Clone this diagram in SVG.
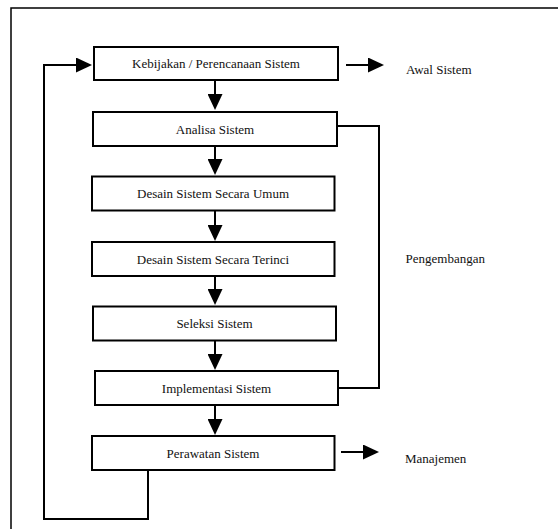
<svg xmlns="http://www.w3.org/2000/svg" width="558" height="529" viewBox="0 0 558 529">
<style>
.box{fill:#fff;stroke:#000;stroke-width:2}
text{font-family:'Liberation Serif','DejaVu Serif','Times New Roman',serif;font-size:13px;fill:#111}
.c{text-anchor:middle}
.ln{fill:none;stroke:#000;stroke-width:2}
.frame{fill:none;stroke:#000;stroke-width:1.5}
</style>
<defs>
<marker id="ah" markerUnits="userSpaceOnUse" markerWidth="16" markerHeight="15" refX="12" refY="7.5" orient="auto">
<path d="M0,0 L16,7.5 L0,15 z" fill="#000"/>
</marker>
</defs>
<rect class="frame" x="11" y="8" width="600" height="600"/>
<g id="connectors">
<line class="ln" x1="215" y1="80" x2="215" y2="106" marker-end="url(#ah)"/>
<line class="ln" x1="215" y1="146" x2="215" y2="171" marker-end="url(#ah)"/>
<line class="ln" x1="215" y1="211" x2="215" y2="237" marker-end="url(#ah)"/>
<line class="ln" x1="215" y1="276" x2="215" y2="301" marker-end="url(#ah)"/>
<line class="ln" x1="215" y1="341" x2="215" y2="366" marker-end="url(#ah)"/>
<line class="ln" x1="215" y1="405" x2="215" y2="431" marker-end="url(#ah)"/>
<line class="ln" x1="346" y1="65" x2="380" y2="65" marker-end="url(#ah)"/>
<line class="ln" x1="341" y1="452" x2="375" y2="452" marker-end="url(#ah)"/>
<path class="ln" d="M148,470 V519 H44 V65 H88" marker-end="url(#ah)"/>
<path class="ln" d="M337,126 H379 V388 H338"/>
</g>
<g id="n1"><rect class="box" x="94" y="47" width="244" height="33"/><text class="c" x="216" y="68">Kebijakan / Perencanaan Sistem</text></g>
<g id="n2"><rect class="box" x="93" y="112" width="244" height="34"/><text class="c" x="215" y="133.5">Analisa Sistem</text></g>
<g id="n3"><rect class="box" x="92" y="176.5" width="242.5" height="34"/><text class="c" x="213" y="198">Desain Sistem Secara Umum</text></g>
<g id="n4"><rect class="box" x="92" y="242" width="242.5" height="34"/><text class="c" x="213" y="263.5">Desain Sistem Secara Terinci</text></g>
<g id="n5"><rect class="box" x="93" y="306.5" width="243" height="34"/><text class="c" x="214.5" y="328">Seleksi Sistem</text></g>
<g id="n6"><rect class="box" x="95" y="371" width="243" height="34"/><text class="c" x="216.5" y="392.5">Implementasi Sistem</text></g>
<g id="n7"><rect class="box" x="92" y="436" width="242.5" height="34"/><text class="c" x="213" y="457.5">Perawatan Sistem</text></g>
<g id="labels">
<text x="406" y="74">Awal Sistem</text>
<text x="405.5" y="263">Pengembangan</text>
<text x="405" y="463">Manajemen</text>
</g>
</svg>
